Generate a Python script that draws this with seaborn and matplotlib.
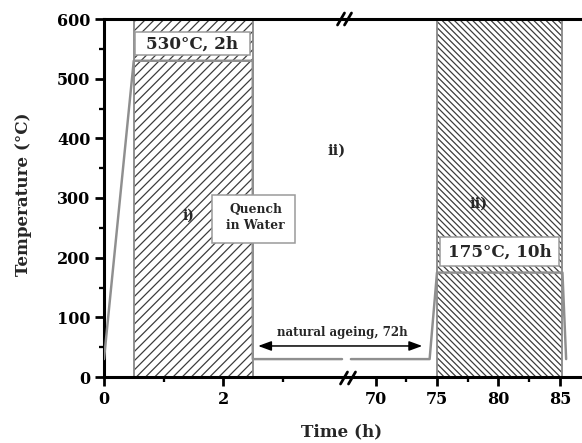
import matplotlib
matplotlib.use("Agg")
import matplotlib.pyplot as plt
import seaborn as sns
from matplotlib.patches import Rectangle
from matplotlib.lines import Line2D

sns.set_theme(style="ticks")
plt.rcParams['font.family'] = ['DejaVu Serif']
plt.rcParams['font.weight'] = 'bold'
plt.rcParams['axes.labelweight'] = 'bold'
plt.rcParams['hatch.linewidth'] = 0.8

# ---------------- data ----------------
solution_time = [0.0, 0.5, 2.5, 2.5, 4.0]
solution_temp = [30, 530, 530, 30, 30]
ageing_time = [68.0, 74.4, 75.0, 85.2, 85.5]
ageing_temp = [30, 30, 175, 175, 30]

stage1_start, stage1_end = 0.5, 2.5
stage2_start, stage2_end = 75.0, 85.2
y_top = 600

label1 = "530°C, 2h"
label2 = "175°C, 10h"
quench_label = "Quench\nin Water"
ageing_label = "natural ageing, 72h"

left_major = [0, 2]
left_minor = [1, 3]
right_major = [70, 75, 80, 85]
right_minor = [72.5, 77.5, 82.5]
y_major = [0, 100, 200, 300, 400, 500, 600]
y_minor = [50, 150, 250, 350, 450, 550]

# ---------------- figure ----------------
W, H, DPI = 582, 443, 110
fig = plt.figure(figsize=(W / DPI, H / DPI), dpi=DPI)
fig.patch.set_facecolor('white')

def fx(px):
    return px / W

def fy(py):
    return 1 - py / H

x0, xb, x1 = 104, 345, 582
ytop, ybot = 19, 377
ax1 = fig.add_axes([fx(x0), fy(ybot), (xb - x0) / W, (ybot - ytop) / H])
ax2 = fig.add_axes([fx(xb), fy(ybot), (x1 - xb) / W, (ybot - ytop) / H], sharey=ax1)
for ax in (ax1, ax2):
    ax.patch.set_visible(False)

ax1.set_xlim(0, 4.05)
ax2.set_xlim(67.52, 86.79)
ax1.set_ylim(0, 600)

hatch_col = '#3a3a3a'
edge_col = '#8a8a8a'
line_col = '#8f8f8f'

# hatched stage regions
ax1.bar([(stage1_start + stage1_end) / 2], [y_top], width=stage1_end - stage1_start,
        fill=False, hatch='////', edgecolor=hatch_col, linewidth=0, zorder=1)
ax1.bar([(stage1_start + stage1_end) / 2], [y_top], width=stage1_end - stage1_start,
        fill=False, edgecolor=edge_col, linewidth=1.2, zorder=1.5)
ax2.bar([(stage2_start + stage2_end) / 2], [y_top], width=stage2_end - stage2_start,
        fill=False, hatch='\\' * 6, edgecolor=hatch_col, linewidth=0, zorder=1)
ax2.bar([(stage2_start + stage2_end) / 2], [y_top], width=stage2_end - stage2_start,
        fill=False, edgecolor=edge_col, linewidth=1.2, zorder=1.5)

# process line
sns.lineplot(x=solution_time, y=solution_temp, sort=False, estimator=None,
             ax=ax1, color=line_col, linewidth=1.6, zorder=3)
sns.lineplot(x=ageing_time, y=ageing_temp, sort=False, estimator=None,
             ax=ax2, color=line_col, linewidth=1.6, zorder=3)

# label boxes
ax1.add_patch(Rectangle((0.52, 539), 1.93, 39, facecolor='white', edgecolor='#9a9a9a',
                        linewidth=1.0, zorder=4))
ax1.text(1.485, 558, label1, ha='center', va='center', fontsize=11, zorder=5)

ax2.add_patch(Rectangle((75.25, 186), 9.7, 48.5, facecolor='white', edgecolor='#9a9a9a',
                        linewidth=1.0, zorder=4))
ax2.text(80.1, 210, label2, ha='center', va='center', fontsize=11, zorder=5)

ax1.add_patch(Rectangle((1.815, 224), 1.395, 81, facecolor='white', edgecolor='#9a9a9a',
                        linewidth=1.0, zorder=4))
ax1.text(2.55, 267, quench_label, ha='center', va='center', fontsize=8,
         linespacing=1.35, zorder=5)

# stage labels
ax1.text(1.42, 270, "i)", ha='center', va='center', fontsize=9, zorder=5)
ax1.text(3.9, 380, "ii)", ha='center', va='center', fontsize=9.5, zorder=5)
ax2.text(78.4, 291, "ii)", ha='center', va='center', fontsize=9.5, zorder=5)

# natural ageing arrow + text
ax1.annotate("", xy=(73.8, 52), xycoords=ax2.transData,
             xytext=(2.59, 52), textcoords=ax1.transData,
             arrowprops=dict(arrowstyle='<|-|>,head_length=0.6,head_width=0.22',
                             color='black', lw=1.0, shrinkA=0, shrinkB=0))
ax1.text(4.0, 74, ageing_label, ha='center', va='center', fontsize=7.8, zorder=5)

# spines & ticks
for ax in (ax1, ax2):
    for s in ax.spines.values():
        s.set_linewidth(2.0)
        s.set_color('black')
ax1.spines['right'].set_visible(False)
ax2.spines['left'].set_visible(False)
ax2.spines['right'].set_visible(False)

ax1.set_xticks(left_major)
ax1.set_xticks(left_minor, minor=True)
ax2.set_xticks(right_major)
ax2.set_xticks(right_minor, minor=True)
ax1.set_yticks(y_major)
ax1.set_yticks(y_minor, minor=True)

for ax in (ax1, ax2):
    ax.tick_params(axis='both', which='major', direction='out', length=6, width=1.8,
                   labelsize=10.5, pad=3, color='black', labelcolor='black')
    ax.tick_params(axis='both', which='minor', direction='out', length=3.5, width=1.5,
                   color='black')
    ax.tick_params(top=False, right=False, which='both')
ax2.tick_params(axis='y', which='both', left=False, labelleft=False)

for ax in (ax1, ax2):
    ax.set_xlabel("")
    ax.set_ylabel("")

fig.text(fx(24), fy(194), "Temperature (°C)", rotation=90, ha='center', va='center',
         fontsize=11, fontweight='bold')
fig.text(fx(342), fy(432), "Time (h)", ha='center', va='center',
         fontsize=11, fontweight='bold')

# break marks
for cx_list, cy in (([341, 348], 19), ([344, 352], 378)):
    for cx in cx_list:
        fig.add_artist(Line2D([fx(cx - 3.5), fx(cx + 3.5)], [fy(cy + 6), fy(cy - 6)],
                              color='black', lw=1.8))

fig.savefig('out.png', dpi=DPI)
